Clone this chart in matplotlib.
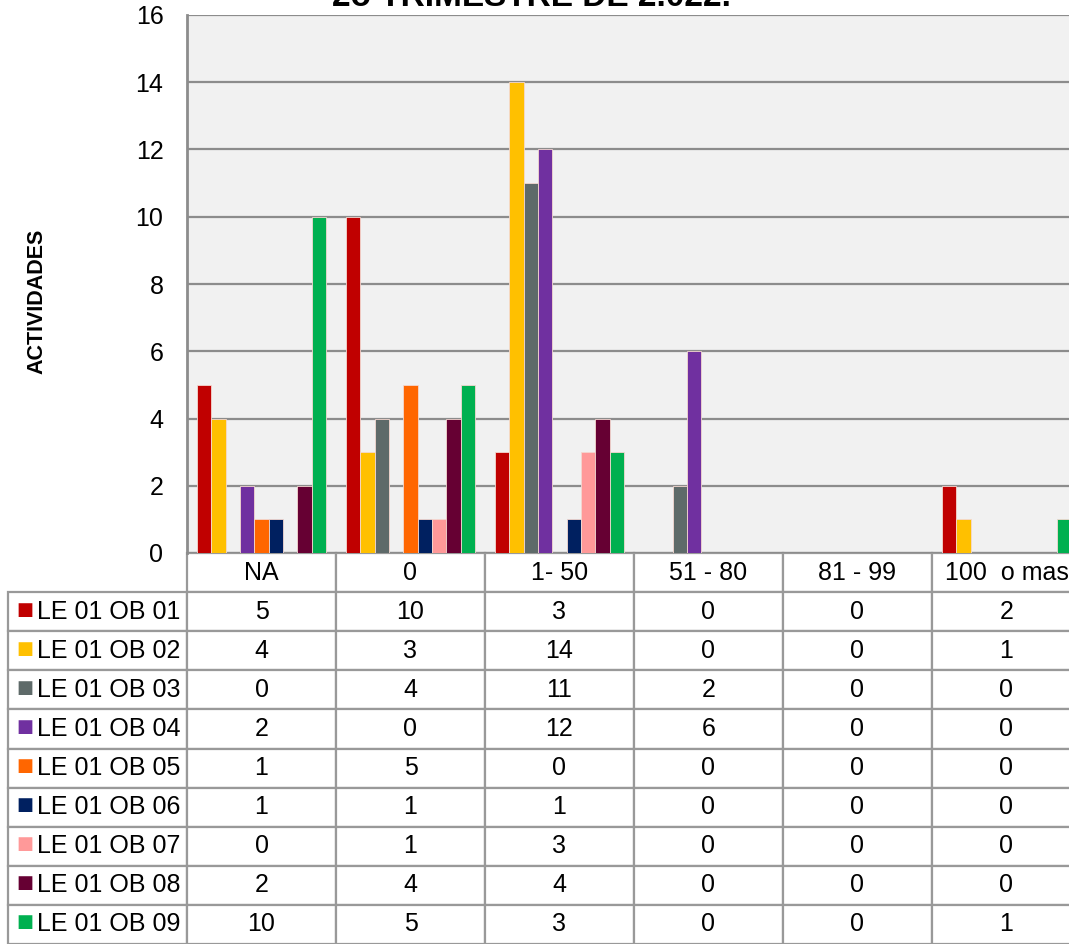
import matplotlib
matplotlib.use("Agg")
import matplotlib.pyplot as plt
import numpy as np

plt.rcParams['font.family'] = ['Liberation Sans', 'DejaVu Sans']

categories = ["NA", "0", "1- 50", "51 - 80", "81 - 99", "100  o mas"]
series_names = ["LE 01 OB 01", "LE 01 OB 02", "LE 01 OB 03", "LE 01 OB 04", "LE 01 OB 05",
                "LE 01 OB 06", "LE 01 OB 07", "LE 01 OB 08", "LE 01 OB 09"]
ob01 = [5, 10, 3, 0, 0, 2]
ob02 = [4, 3, 14, 0, 0, 1]
ob03 = [0, 4, 11, 2, 0, 0]
ob04 = [2, 0, 12, 6, 0, 0]
ob05 = [1, 5, 0, 0, 0, 0]
ob06 = [1, 1, 1, 0, 0, 0]
ob07 = [0, 1, 3, 0, 0, 0]
ob08 = [2, 4, 4, 0, 0, 0]
ob09 = [10, 5, 3, 0, 0, 1]
series_values = [ob01, ob02, ob03, ob04, ob05, ob06, ob07, ob08, ob09]
colors = ["#C00000", "#FFC000", "#5E6A69", "#7030A0", "#FF6600",
          "#002060", "#FF9999", "#660033", "#00B050"]
title = "2o TRIMESTRE DE 2.022."
ylabel = "ACTIVIDADES"

W, H = 1069, 944
fig = plt.figure(figsize=(W / 100, H / 100), dpi=100)
ax_left, ax_right, ax_top, ax_bottom = 187, 1081, 15, 553
ax = fig.add_axes([ax_left / W, (H - ax_bottom) / H, (ax_right - ax_left) / W, (ax_bottom - ax_top) / H])
ax.set_facecolor("#F1F1F1")

n_series = len(series_values)
bar_w = (129.0 / 149.0) / n_series
x = np.arange(len(categories))
for i, (vals, c) in enumerate(zip(series_values, colors)):
    offs = -0.5 + (10.0 / 149.0) + bar_w * (i + 0.5)
    ax.bar(x + 0.5 + offs, vals, width=bar_w, color=c, edgecolor="#F4D8D0",
           linewidth=0.6, zorder=3)

ax.set_xlim(0, len(categories))
ax.set_ylim(0, 16)
ax.set_yticks(range(0, 17, 2))
ax.yaxis.grid(True, color="#8C8C8C", linewidth=1.6, zorder=1)
ax.set_axisbelow(True)
ax.tick_params(axis="y", length=0, pad=17, labelsize=18)
ax.set_xticks([])
for s in ["top", "right", "bottom"]:
    ax.spines[s].set_visible(False)
ax.spines["left"].set_color("#8C8C8C")
ax.spines["left"].set_linewidth(2)

ax_w = ax_right - ax_left
ax_h = ax_bottom - ax_top
ax.set_ylabel(ylabel, fontsize=15.5, fontweight="bold")
ax.yaxis.set_label_coords((47 - ax_left) / ax_w, (ax_bottom - 301) / ax_h)

fig.text(531 / W, (H - 6) / H, title, ha="center", va="baseline", fontsize=24, fontweight="bold")

# table
label_w = ax_left - 8
table_h = H - ax_bottom
cell_text = [[""] + categories]
for name, vals in zip(series_names, series_values):
    cell_text.append([name] + [str(v) for v in vals])
col_widths = [label_w / ax_w] + [149 / ax_w] * len(categories)
tbl = ax.table(cellText=cell_text, colWidths=col_widths, cellLoc="center",
               bbox=[-label_w / ax_w, -table_h / ax_h, (label_w + ax_w) / ax_w, table_h / ax_h])
tbl.auto_set_font_size(False)
tbl.set_fontsize(18)
for (r, c), cell in tbl.get_celld().items():
    cell.set_edgecolor("#999999")
    cell.set_linewidth(1.6)
    cell.set_facecolor("white")
    if c == 0:
        cell.set_text_props(ha="left")
        cell._loc = "left"
        cell.PAD = 29.0 / label_w
    if r == 0 and c == 0:
        cell.visible_edges = ""

row_h = table_h / (len(series_names) + 1)
for i, c in enumerate(colors):
    y_px = ax_bottom + row_h * (i + 1.5) - 2
    ax.text((24.5 - ax_left) / ax_w, (ax_bottom - y_px) / ax_h, "■", color=c, fontsize=13,
            ha="center", va="center", transform=ax.transAxes, clip_on=False,
            family=["DejaVu Sans"], zorder=5)

fig.savefig("out.png", dpi=100)
